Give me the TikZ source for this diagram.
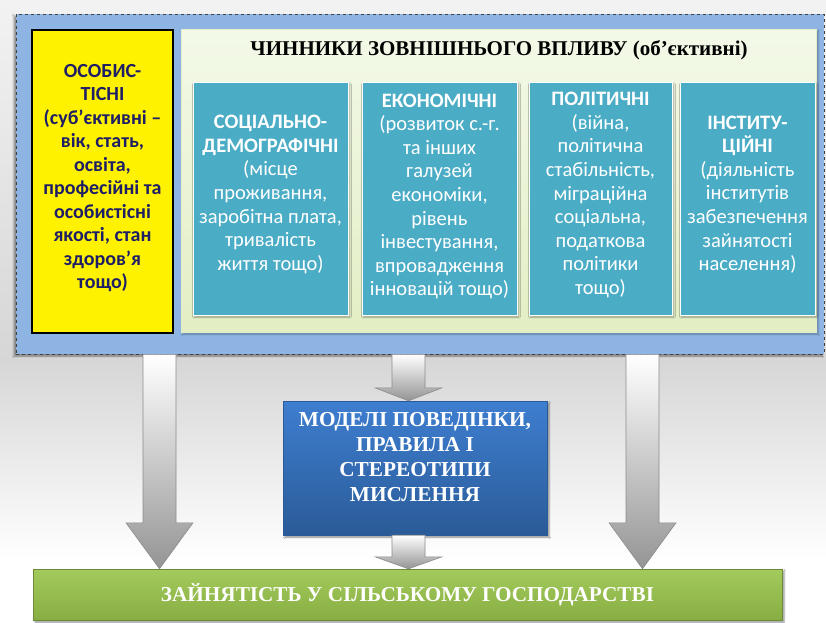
\documentclass[tikz,border=0pt]{standalone}
\usepackage{fontspec}
\setmainfont{Liberation Serif}
\newfontfamily\carl{Carlito}
\usetikzlibrary{calc,shadows.blur}
\definecolor{outerblue}{HTML}{8DB4E2}
\definecolor{panelT}{HTML}{F3F9E8}
\definecolor{panelB}{HTML}{E3EEC4}
\definecolor{tealbox}{HTML}{4BACC6}
\definecolor{navytext}{HTML}{1E1E66}
\definecolor{modelT}{HTML}{3E7ED0}
\definecolor{modelB}{HTML}{2A5B98}
\definecolor{empT}{HTML}{A3CA5B}
\definecolor{empB}{HTML}{88AE43}
\newcommand\myblockarrow[3]{%
  \path[blockarr] let \p1=(#1), \p2=(#2) in
    (\x1-16.5pt,\y1) -- (\x1+16.5pt,\y1) -- (\x1+16.5pt,\y2+#3) -- (\x1+33.5pt,\y2+#3)
    -- (\x1,\y2) -- (\x1-33.5pt,\y2+#3) -- (\x1-16.5pt,\y2+#3) -- cycle;}
\begin{document}
\begin{tikzpicture}[x=1pt,y=-1pt,
  outerbox/.style={draw=black!75, dashed, line width=0.7pt, fill=outerblue, inner sep=0pt,
    blur shadow={shadow xshift=-2pt, shadow yshift=-2pt, shadow opacity=45}},
  yellowbox/.style={draw=black, line width=1.3pt, fill=yellow, inner sep=0pt},
  panel/.style={draw=panelB, top color=panelT, bottom color=panelB, inner sep=0pt,
    blur shadow={shadow xshift=1.5pt, shadow yshift=-1.5pt, shadow opacity=30}},
  tealrect/.style={draw=white, line width=0.8pt, fill=tealbox, inner sep=0pt,
    blur shadow={shadow xshift=1.5pt, shadow yshift=-2pt, shadow opacity=35}},
  tealtext/.style={text=white, align=center, font=\carl\fontsize{20.5}{23.6}\selectfont, inner sep=0pt},
  yelltext/.style={text=navytext, align=center, font=\carl\bfseries\fontsize{20}{23.5}\selectfont, inner sep=0pt},
  modelbox/.style={top color=modelT, bottom color=modelB, draw=modelB, inner sep=0pt,
    blur shadow={shadow xshift=2pt, shadow yshift=-2pt, shadow opacity=45}},
  modeltext/.style={text=white, align=center, font=\bfseries\fontsize{21.3}{25}\selectfont, inner sep=0pt},
  empbox/.style={top color=empT, bottom color=empB, draw=empB!80!black, inner sep=0pt,
    blur shadow={shadow xshift=2pt, shadow yshift=-2pt, shadow opacity=45}},
  blockarr/.style={top color=white, bottom color=black!42, draw=black!45, line width=0.6pt}
]
\useasboundingbox (0,0) rectangle (826,622);
% background
\fill[top color=black!5, bottom color=black!16] (0,0) rectangle (826,360);
\fill[top color=black!16, bottom color=white] (0,360) rectangle (826,560);
\fill[white] (0,560) rectangle (826,622);

% outer frame
\node[outerbox, minimum width=808, minimum height=340] (outer) at (420,184) {};
% personal factors
\node[yellowbox, minimum width=141, minimum height=303] (pers) at (102.5,181.5) {};
\node[yelltext] (persT) at (102.5,178) {ОСОБИС-\\ТІСНІ\\(суб’єктивні –\\вік, стать,\\освіта,\\професійні та\\особистісні\\якості, стан\\здоров’я\\тощо)};
% external panel
\node[panel, minimum width=635, minimum height=303] (ext) at (499,181) {};
\node[font=\bfseries\fontsize{21}{24}\selectfont, inner sep=0pt] (extT) at (499,50) {ЧИННИКИ ЗОВНІШНЬОГО ВПЛИВУ (об’єктивні)};

% teal boxes
\node[tealrect, minimum width=155, minimum height=233] (soc) at (270.5,198.5) {};
\node[tealrect, minimum width=155, minimum height=233] (eco) at (439.5,198.5) {};
\node[tealrect, minimum width=143, minimum height=233] (pol) at (600.5,198.5) {};
\node[tealrect, minimum width=135, minimum height=233] (ins) at (747.5,198.5) {};
\node[tealtext] (socT) at (270.5,194.5) {\textbf{СОЦІАЛЬНО-}\\\textbf{ДЕМОГРАФІЧНІ}\\(місце\\проживання,\\заробітна плата,\\тривалість\\життя тощо)};
\node[tealtext] (ecoT) at (439.5,196.5) {\textbf{ЕКОНОМІЧНІ}\\(розвиток с.-г.\\та інших\\галузей\\економіки,\\рівень\\інвестування,\\впровадження\\інновацій тощо)};
\node[tealtext] (polT) at (600.5,195) {\textbf{ПОЛІТИЧНІ}\\(війна,\\політична\\стабільність,\\міграційна\\соціальна,\\податкова\\політики\\тощо)};
\node[tealtext] (insT) at (747.5,194.5) {\textbf{ІНСТИТУ-}\\\textbf{ЦІЙНІ}\\(діяльність\\інститутів\\забезпечення\\зайнятості\\населення)};

% behaviour models
\node[modelbox, minimum width=264, minimum height=134] (model) at (415,468) {};
\node[modeltext] (modelT) at (415,457.5) {МОДЕЛІ ПОВЕДІНКИ,\\ПРАВИЛА І\\СТЕРЕОТИПИ\\МИСЛЕННЯ};

% employment
\node[empbox, minimum width=749, minimum height=51, text=white, font=\bfseries\fontsize{21.2}{24}\selectfont] (emp) at (407.5,594.5) {ЗАЙНЯТІСТЬ У СІЛЬСЬКОМУ ГОСПОДАРСТВІ};

% block arrows
\coordinate (xl) at (159.5,0);
\coordinate (xm) at (408.5,0);
\coordinate (xr) at (642.5,0);
\myblockarrow{xl |- outer.south}{xl |- emp.north}{46pt}
\myblockarrow{xr |- outer.south}{xr |- emp.north}{46pt}
\myblockarrow{xm |- outer.south}{xm |- model.north}{13pt}
\myblockarrow{xm |- model.south}{xm |- emp.north}{12pt}
\end{tikzpicture}
\end{document}
